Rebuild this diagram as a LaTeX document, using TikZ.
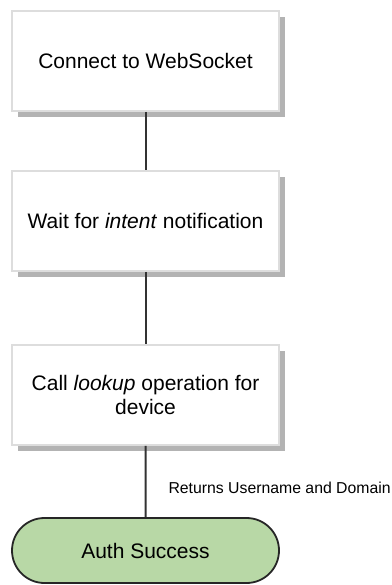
\documentclass[tikz,border=0pt]{standalone}
\usepackage{fontspec}
\setmainfont{Liberation Sans}
\usepackage{tikz}
\usetikzlibrary{shapes.misc,shadows,positioning}
\definecolor{boxedge}{RGB}{221,221,221}
\definecolor{boxshadow}{RGB}{179,179,179}
\definecolor{okgreen}{RGB}{184,216,166}
\definecolor{linkgray}{RGB}{51,51,51}
\tikzset{
    step box/.style={
        draw=boxedge,line width=1.6pt,
        fill=white,
        minimum width=267pt,minimum height=100pt,inner sep=0pt,
        align=center,
        font=\fontsize{21}{24}\selectfont,
        drop shadow={shadow xshift=6pt,shadow yshift=-6pt,fill=boxshadow,opacity=1}
    },
    end box/.style={
        rounded rectangle,draw=black!85,line width=1.8pt,
        fill=okgreen,
        minimum width=267pt,minimum height=65pt,inner sep=0pt,
        font=\fontsize{21}{24}\selectfont
    },
    link/.style={draw=linkgray,line width=2pt}
}

\begin{document}
\begin{tikzpicture}[x=1pt,y=-1pt]
\useasboundingbox (0,0) rectangle (391,585);
\node[step box] (connect) at (145.5,61) {Connect to WebSocket};
\node[step box] (wait) at (145.5,221) {Wait for \textit{intent} notification};
\node[step box] (lookup) at (145.5,395) {Call \textit{lookup} operation for\\device};
\node[end box] (success) at (145.5,550.5) {Auth Success};
\draw[link] (connect) -- (wait);
\draw[link] (wait) -- (lookup);
\draw[link] (lookup) -- node[pos=0.59,anchor=west,xshift=19pt,inner sep=3pt,font=\fontsize{15.8}{18}\selectfont] (returns) {Returns Username and Domain} (success);
\end{tikzpicture}
\end{document}
